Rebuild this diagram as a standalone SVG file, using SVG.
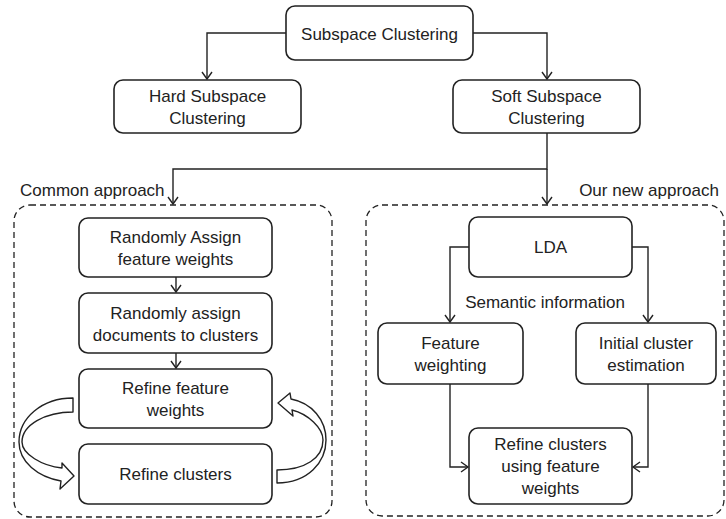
<svg xmlns="http://www.w3.org/2000/svg" width="726" height="519" viewBox="0 0 726 519">
<defs>
<marker id="arr" markerUnits="userSpaceOnUse" markerWidth="14" markerHeight="14" refX="8" refY="6" orient="auto" viewBox="0 0 14 12">
<path d="M1,1 L8,6 L1,11" fill="none" stroke="#222" stroke-width="1.4"/>
</marker>
<style>
.box{fill:#fff;stroke:#222;stroke-width:1.6}
.dash{fill:none;stroke:#222;stroke-width:1.3;stroke-dasharray:6 4}
.t{font-family:"Liberation Sans",Arial,sans-serif;font-size:17px;fill:#222;text-anchor:middle}
.lbl{font-family:"Liberation Sans",Arial,sans-serif;font-size:17px;fill:#222}
.c{fill:none;stroke:#222;stroke-width:1.4;marker-end:url(#arr)}
.blk{fill:#fff;stroke:#222;stroke-width:1.4;stroke-linejoin:round}
</style>
</defs>
<rect width="726" height="519" fill="#fff"/>

<g id="containers">
<rect class="dash" x="14" y="205" width="318" height="312" rx="16"/>
<rect class="dash" x="366" y="205" width="358" height="311" rx="16"/>
<text class="lbl" x="20" y="196">Common approach</text>
<text class="lbl" x="719" y="196" text-anchor="end">Our new approach</text>
</g>

<g id="connectors">
<path class="c" d="M286,33 H207 V79"/>
<path class="c" d="M473,33 H547 V79"/>
<path class="c" d="M547,133 V169 H173 V204"/>
<path class="c" d="M547,169 V204"/>
<path class="c" d="M176,277 V292"/>
<path class="c" d="M176,353 V368"/>
<path class="c" d="M469,247 H450 V322"/>
<path class="c" d="M632,247 H648 V322"/>
<path class="c" d="M450,384 V467 H468"/>
<path class="c" d="M648,384 V467 H633"/>
<text class="t" x="545" y="308">Semantic information</text>
<path class="blk" d="M73,398 C42,398 19,418 19,442 C19,462 38,477 61,481 L60,489 L74,476 L62,463 L62,468 C42,466 22,454 22,442 C22,425 45,412 73,412 Z"/>
<path class="blk" d="M277,483 C308,483 326,462 326,440 C326,420 312,403 291,399 L290,393 L278,403 L293,416 L292,410 C308,414 323,428 323,440 C323,458 305,470 277,470 Z"/>
</g>

<g id="n-subspace">
<rect class="box" x="286" y="6" width="187" height="54" rx="9"/>
<text class="t" x="379.5" y="40">Subspace Clustering</text>
</g>
<g id="n-hard">
<rect class="box" x="114" y="80" width="187" height="53" rx="9"/>
<text class="t" x="207.5" y="102">Hard Subspace</text>
<text class="t" x="207.5" y="124">Clustering</text>
</g>
<g id="n-soft">
<rect class="box" x="453" y="80" width="187" height="53" rx="9"/>
<text class="t" x="546.5" y="102">Soft Subspace</text>
<text class="t" x="546.5" y="124">Clustering</text>
</g>

<g id="n-rand-weights">
<rect class="box" x="79" y="218" width="193" height="59" rx="9"/>
<text class="t" x="175.5" y="243">Randomly Assign</text>
<text class="t" x="175.5" y="265">feature weights</text>
</g>
<g id="n-rand-docs">
<rect class="box" x="79" y="293" width="193" height="60" rx="9"/>
<text class="t" x="175.5" y="318.5">Randomly assign</text>
<text class="t" x="175.5" y="340.5">documents to clusters</text>
</g>
<g id="n-refine-weights">
<rect class="box" x="79" y="369" width="193" height="59" rx="9"/>
<text class="t" x="175.5" y="394">Refine feature</text>
<text class="t" x="175.5" y="416">weights</text>
</g>
<g id="n-refine-clusters">
<rect class="box" x="79" y="444" width="193" height="60" rx="9"/>
<text class="t" x="175.5" y="480">Refine clusters</text>
</g>

<g id="n-lda">
<rect class="box" x="469" y="217" width="163" height="60" rx="9"/>
<text class="t" x="550.5" y="253">LDA</text>
</g>
<g id="n-feature-weighting">
<rect class="box" x="378" y="323" width="145" height="61" rx="9"/>
<text class="t" x="450.5" y="349">Feature</text>
<text class="t" x="450.5" y="371">weighting</text>
</g>
<g id="n-initial">
<rect class="box" x="576" y="323" width="140" height="61" rx="9"/>
<text class="t" x="646" y="349">Initial cluster</text>
<text class="t" x="646" y="371">estimation</text>
</g>
<g id="n-refine-using">
<rect class="box" x="469" y="428" width="163" height="76" rx="9"/>
<text class="t" x="550.5" y="450">Refine clusters</text>
<text class="t" x="550.5" y="472">using feature</text>
<text class="t" x="550.5" y="494">weights</text>
</g>
</svg>
